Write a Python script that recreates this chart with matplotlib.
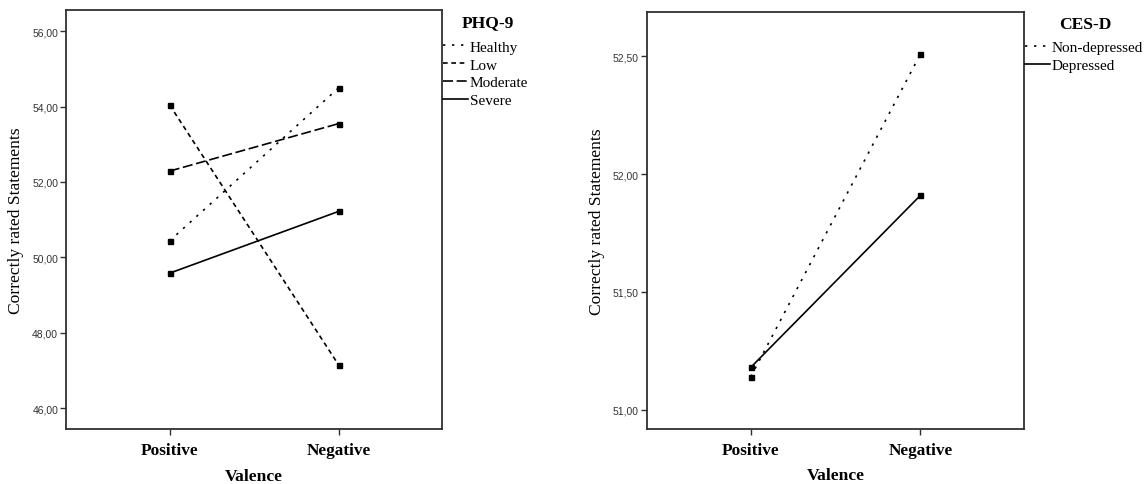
import matplotlib
matplotlib.use("Agg")
import matplotlib.pyplot as plt
from matplotlib.ticker import FixedLocator
from matplotlib.lines import Line2D

# ---------------- data ----------------
categories = ["Positive", "Negative"]

phq_groups = ["Healthy", "Low", "Moderate", "Severe"]
phq_healthy = [50.44, 54.50]
phq_low = [54.04, 47.14]
phq_moderate = [52.29, 53.55]
phq_severe = [49.58, 51.22]

cesd_groups = ["Non-depressed", "Depressed"]
cesd_nondep = [51.14, 52.51]
cesd_dep = [51.18, 51.91]

phq_ticks = [46.0, 48.0, 50.0, 52.0, 54.0, 56.0]
phq_ticklabels = ["46,00", "48,00", "50,00", "52,00", "54,00", "56,00"]
cesd_ticks = [51.0, 51.5, 52.0, 52.5]
cesd_ticklabels = ["51,00", "51,50", "52,00", "52,50"]

xlabel = "Valence"
ylabel = "Correctly rated Statements"
phq_title = "PHQ-9"
cesd_title = "CES-D"

# ---------------- style ----------------
SERIF = ["Liberation Serif", "DejaVu Serif"]
SANS = ["Liberation Sans", "DejaVu Sans"]
SPINE = "#303030"
LW = 1.2

styles_phq = [(0, (1.4, 4.0)), (0, (2.8, 2.2)), (0, (6.0, 2.2)), "solid"]
styles_cesd = [(0, (1.4, 4.0)), "solid"]

fig = plt.figure(figsize=(11.48, 4.85), dpi=100)
ax1 = fig.add_axes([0.0579, 0.1134, 0.385 - 0.0579, 0.9767 - 0.1134])
ax2 = fig.add_axes([0.5638, 0.1134, 0.892 - 0.5638, 0.9738 - 0.1134])

x = list(range(len(categories)))


def style_axes(ax, ticks, ticklabels, ylim):
    ax.set_xlim(-0.611, 1.611)
    ax.set_ylim(*ylim)
    ax.set_xticks(x)
    ax.set_xticklabels(categories, fontfamily=SERIF, fontweight="bold", fontsize=12.4)
    ax.yaxis.set_major_locator(FixedLocator(ticks))
    ax.set_yticklabels(ticklabels, fontfamily=SANS, fontsize=7.5, color="#333333")
    ax.tick_params(axis="y", direction="out", length=4.5, width=1.0, pad=1.5, color=SPINE)
    ax.tick_params(axis="x", direction="out", length=4.5, width=1.0, pad=4.5, color=SPINE)
    for s in ax.spines.values():
        s.set_linewidth(1.3)
        s.set_color(SPINE)
    ax.set_xlabel(xlabel, fontfamily=SERIF, fontweight="bold", fontsize=12.6)
    ax.xaxis.set_label_coords(0.5, -0.092)
    ax.xaxis.label.set_va("top")
    ax.set_ylabel(ylabel, fontfamily=SERIF, fontsize=12.6)
    ax.yaxis.set_label_coords(-0.112, 0.5)


def make_legend(ax, names, styles, title, top_y, title_x, title_y):
    hs = [Line2D([], [], color="black", linestyle=ls, linewidth=LW) for ls in styles]
    ax.legend(hs, names, loc="upper left", bbox_to_anchor=(1.003, top_y),
              frameon=False, prop={"family": SERIF, "size": 11},
              handlelength=1.6, handletextpad=0.15, labelspacing=0.27,
              borderpad=0.0, borderaxespad=0.0)
    ax.text(title_x, title_y, title, transform=ax.transAxes, ha="center", va="center",
            fontfamily=SERIF, fontweight="bold", fontsize=12.6, clip_on=False)


# left panel
for vals, name, ls in zip([phq_healthy, phq_low, phq_moderate, phq_severe], phq_groups, styles_phq):
    ax1.plot(x, vals, color="black", linestyle=ls, linewidth=LW, marker="s",
             markersize=3.6, label=name)
style_axes(ax1, phq_ticks, phq_ticklabels, (45.443, 56.557))
make_legend(ax1, phq_groups, styles_phq, phq_title, 0.929, 1.121, 0.972)

# right panel
for vals, name, ls in zip([cesd_nondep, cesd_dep], cesd_groups, styles_cesd):
    ax2.plot(x, vals, color="black", linestyle=ls, linewidth=LW, marker="s",
             markersize=3.6, label=name)
style_axes(ax2, cesd_ticks, cesd_ticklabels, (50.918, 52.69))
make_legend(ax2, cesd_groups, styles_cesd, cesd_title, 0.931, 1.162, 0.970)

fig.savefig("out.png", dpi=100)
